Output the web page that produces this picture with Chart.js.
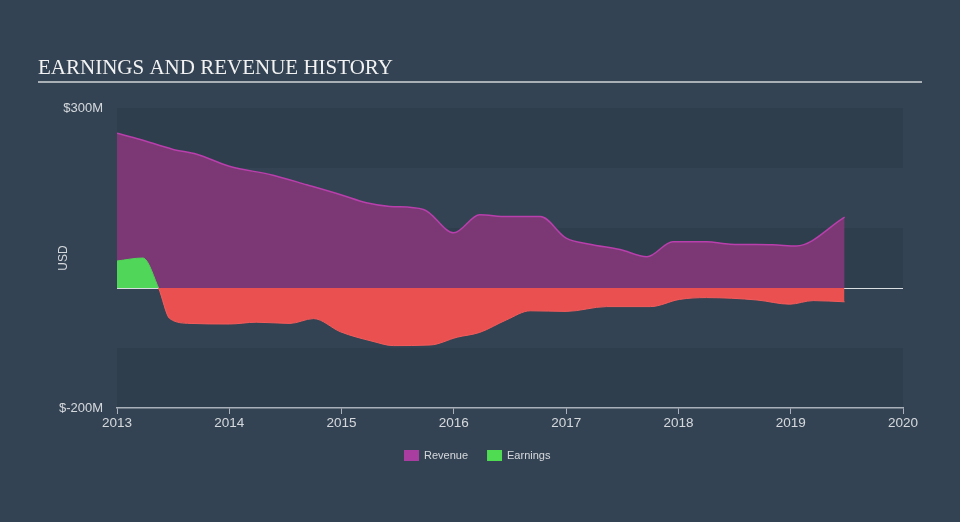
<!DOCTYPE html>
<html>
<head>
<meta charset="utf-8">
<script src="https://cdn.jsdelivr.net/npm/chart.js@4.4.0/dist/chart.umd.min.js"></script>
<style>
  html, body { margin: 0; padding: 0; background: #334353; }
  #wrap { width: 960px; height: 522px; position: relative; }
</style>
</head>
<body>
<div id="wrap"><canvas id="chart" width="960" height="522"></canvas></div>
<script>
// Data (values in $M, dates as decimal years)
const revenueDates = [2013.0, 2013.2, 2013.5, 2013.71, 2014.0, 2014.39, 2014.69, 2015.0, 2015.22, 2015.43, 2015.73, 2016.0, 2016.23, 2016.47, 2016.77, 2017.0, 2017.21, 2017.48, 2017.72, 2017.95, 2018.25, 2018.46, 2018.84, 2019.05, 2019.48];
const revenueValues = [258, 248, 231, 223, 203, 188, 172, 155, 142, 136, 131, 92, 122, 119, 119, 83, 73, 64, 52, 77, 77, 73, 72, 70, 118];

const earningsDates = [2013.0, 2013.23, 2013.37, 2013.47, 2013.65, 2014.0, 2014.24, 2014.54, 2014.75, 2014.99, 2015.28, 2015.46, 2015.79, 2016.03, 2016.23, 2016.47, 2016.68, 2017.0, 2017.36, 2017.75, 2018.01, 2018.25, 2018.7, 2018.99, 2019.2, 2019.48];
const earningsValues = [45, 50, 0, -51, -59, -60, -57, -59, -51, -73, -89, -96, -95, -82, -74, -53, -38, -39, -31, -31, -19, -16, -20, -27, -21, -23];

const yTickLabels = { 300: '$300M', '-200': '$-200M' };
const xYears = [2013, 2014, 2015, 2016, 2017, 2018, 2019, 2020];

const FONT = '"Liberation Sans", Arial, sans-serif';
const COLORS = {
  revenueLine: '#b83fac',
  revenueFill: 'rgb(123,56,116)',
  earnUp: '#50d658',
  earnDown: '#eb5050',
  text: 'rgba(230,232,235,0.9)',
  axis: 'rgba(200,205,212,0.8)',
  band: 'rgba(20,30,40,0.11)',
};

const toPoints = (xs, ys) => xs.map((x, i) => ({ x, y: ys[i] }));

// bands, zero line, title, legend
const decorPlugin = {
  id: 'decor',
  beforeDraw(chart) {
    const { ctx, chartArea: a, scales: { y } } = chart;
    ctx.save();
    [[300, 200], [100, 0], [-100, -200]].forEach(([hi, lo]) => {
      const top = y.getPixelForValue(hi);
      const bot = y.getPixelForValue(lo);
      ctx.fillStyle = COLORS.band;
      ctx.fillRect(a.left, top, a.right - a.left, bot - top);
    });
    // title
    ctx.fillStyle = '#f2f2f2';
    ctx.font = '21px "Liberation Serif", "Times New Roman", serif';
    ctx.textBaseline = 'alphabetic';
    ctx.fillText('EARNINGS AND REVENUE HISTORY', 38, 74);
    ctx.fillStyle = 'rgba(190,195,200,0.85)';
    ctx.fillRect(38, 81, 884, 2);
    // legend
    const items = [['Revenue', '#a93da0'], ['Earnings', '#4fdc52']];
    ctx.font = '11px ' + FONT;
    ctx.textBaseline = 'middle';
    let x = 404;
    items.forEach(([label, color]) => {
      ctx.fillStyle = color;
      ctx.fillRect(x, 450, 15, 11);
      ctx.fillStyle = COLORS.text;
      ctx.fillText(label, x + 20, 456);
      x += 20 + ctx.measureText(label).width + 19;
    });
    ctx.restore();
  },
  beforeDatasetsDraw(chart) {
    const { ctx, chartArea: a, scales: { y } } = chart;
    const zy = Math.round(y.getPixelForValue(0)) + 0.5;
    ctx.save();
    ctx.strokeStyle = 'rgba(235,238,240,0.9)';
    ctx.lineWidth = 1;
    ctx.beginPath();
    ctx.moveTo(a.left, zy);
    ctx.lineTo(a.right, zy);
    ctx.stroke();
    ctx.restore();
  },
};

new Chart(document.getElementById('chart'), {
  type: 'line',
  data: {
    datasets: [
      {
        label: 'Revenue',
        data: toPoints(revenueDates, revenueValues),
        borderColor: COLORS.revenueLine,
        backgroundColor: COLORS.revenueFill,
        borderWidth: 1.5,
        pointRadius: 0,
        cubicInterpolationMode: 'monotone',
        fill: 'origin',
        order: 1,
      },
      {
        label: 'Earnings',
        data: toPoints(earningsDates, earningsValues),
        borderWidth: 1,
        segment: {
          borderColor: c => (c.p0.parsed.y > 0 || c.p1.parsed.y > 0 ? COLORS.earnUp : '#f25c5c'),
        },
        pointRadius: 0,
        cubicInterpolationMode: 'monotone',
        fill: { target: 'origin', above: COLORS.earnUp, below: COLORS.earnDown },
        order: 0,
      },
    ],
  },
  options: {
    responsive: false,
    animation: false,
    layout: { padding: { top: 108, right: 57, bottom: 0, left: 0 } },
    plugins: {
      legend: { display: false },
      tooltip: { enabled: false },
    },
    scales: {
      x: {
        type: 'linear',
        min: 2013,
        max: 2020,
        afterFit: s => { s.height = 114; },
        afterBuildTicks: s => { s.ticks = xYears.map(v => ({ value: v })); },
        grid: { display: true, drawOnChartArea: false, drawTicks: true, tickLength: 6, color: COLORS.axis },
        border: { display: true, color: COLORS.axis, width: 1.5 },
        ticks: {
          color: COLORS.text,
          font: { family: FONT, size: 13.5 },
          padding: 1,
          maxRotation: 0,
          callback: v => String(v),
        },
      },
      y: {
        min: -200,
        max: 300,
        afterFit: s => { s.width = 117; },
        afterBuildTicks: s => { s.ticks = [{ value: 300 }, { value: -200 }]; },
        grid: { display: false, drawTicks: false },
        border: { display: false },
        ticks: {
          color: COLORS.text,
          font: { family: FONT, size: 13 },
          padding: 14,
          callback: v => yTickLabels[v] || '',
        },
        title: {
          display: true,
          text: 'USD',
          color: COLORS.text,
          font: { family: FONT, size: 12 },
          padding: { top: 56, bottom: 0 },
        },
      },
    },
  },
  plugins: [decorPlugin],
});
</script>
</body>
</html>
